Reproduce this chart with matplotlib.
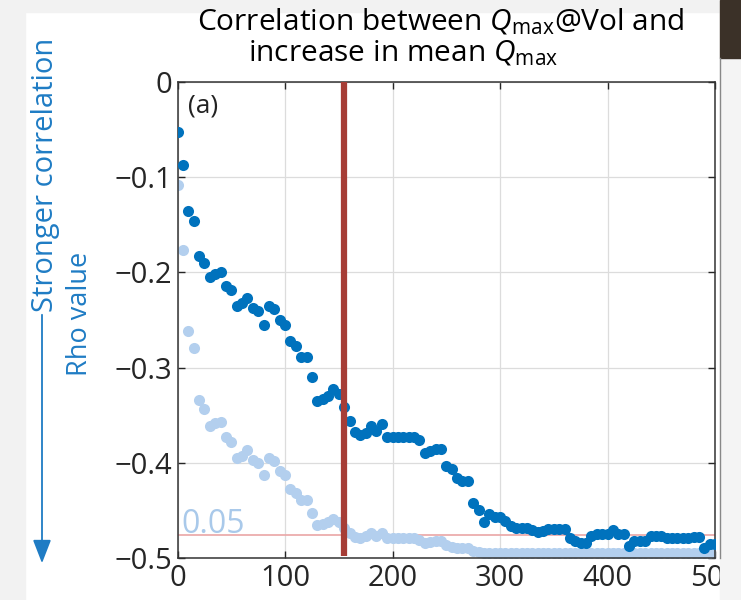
import matplotlib.pyplot as plt
from matplotlib.patches import Rectangle, FancyArrowPatch
from matplotlib.lines import Line2D

plt.rcParams['font.family'] = ['Open Sans', 'DejaVu Sans']
plt.rcParams['mathtext.fontset'] = 'custom'
plt.rcParams['mathtext.rm'] = 'Open Sans'
plt.rcParams['mathtext.it'] = 'Open Sans:italic'

# window size (days), one point every 5
ventana = list(range(0, 501, 5))

rho = [-0.053, -0.087, -0.135, -0.146, -0.183, -0.190, -0.205, -0.202, -0.200, -0.214,
       -0.219, -0.235, -0.232, -0.227, -0.237, -0.241, -0.255, -0.235, -0.238, -0.250,
       -0.255, -0.272, -0.277, -0.289, -0.289, -0.310, -0.335, -0.333, -0.330, -0.322,
       -0.328, -0.341, -0.356, -0.368, -0.371, -0.369, -0.361, -0.367, -0.359, -0.373,
       -0.373, -0.373, -0.373, -0.373, -0.373, -0.376, -0.390, -0.388, -0.385, -0.385,
       -0.403, -0.406, -0.416, -0.419, -0.419, -0.442, -0.450, -0.462, -0.454, -0.457,
       -0.457, -0.461, -0.466, -0.468, -0.468, -0.469, -0.471, -0.473, -0.472, -0.470,
       -0.470, -0.470, -0.470, -0.479, -0.482, -0.484, -0.484, -0.477, -0.475, -0.475,
       -0.475, -0.471, -0.475, -0.475, -0.487, -0.482, -0.482, -0.482, -0.477, -0.477,
       -0.477, -0.479, -0.479, -0.479, -0.479, -0.479, -0.478, -0.478, -0.490, -0.485,
       -0.485]

rho_claro = [-0.108, -0.176, -0.262, -0.279, -0.334, -0.343, -0.361, -0.358, -0.357, -0.373,
             -0.378, -0.395, -0.393, -0.387, -0.397, -0.400, -0.413, -0.395, -0.398, -0.409,
             -0.413, -0.427, -0.432, -0.439, -0.439, -0.453, -0.465, -0.464, -0.462, -0.459,
             -0.462, -0.468, -0.474, -0.478, -0.479, -0.477, -0.474, -0.477, -0.474, -0.479,
             -0.479, -0.479, -0.479, -0.479, -0.479, -0.481, -0.484, -0.483, -0.482, -0.482,
             -0.486, -0.488, -0.489, -0.490, -0.490, -0.493, -0.494, -0.495, -0.495, -0.495,
             -0.495, -0.495, -0.495, -0.495, -0.495, -0.495, -0.495, -0.495, -0.495, -0.495,
             -0.495, -0.495, -0.495, -0.495, -0.495, -0.495, -0.495, -0.495, -0.495, -0.495,
             -0.495, -0.495, -0.495, -0.495, -0.495, -0.495, -0.495, -0.495, -0.495, -0.495,
             -0.495, -0.495, -0.495, -0.495, -0.495, -0.495, -0.495, -0.495, -0.495, -0.495,
             -0.495]

umbral = -0.4755   # rho at p = 0.05
corte = 154.5      # selected window

azul = '#0072bd'
azul_claro = '#b3cfee'
texto_azul = '#1f7cc4'

fig = plt.figure(figsize=(7.41, 6), dpi=100)
W, H = 741, 600

# screenshot edges
fig.patches.append(Rectangle((0, 0), 25 / W, 1, transform=fig.transFigure, color='#f2f2f2', zorder=0))
fig.patches.append(Rectangle((0, 1 - 12 / H), 1, 12 / H, transform=fig.transFigure, color='#f2f2f2', zorder=0))
fig.patches.append(Rectangle((720 / W, 0), 21 / W, 1, transform=fig.transFigure, color='#f4f4f4', zorder=0))
fig.patches.append(Rectangle((720 / W, 1 - 58 / H), 21 / W, 58 / H, transform=fig.transFigure, color='#3b3128', zorder=0))
fig.lines.append(Line2D([720 / W, 720 / W], [0.07, 1 - 58 / H], transform=fig.transFigure, color='#888888', lw=1))

ax = fig.add_axes([177.5 / W, 1 - 558 / H, (715 - 177.5) / W, (558 - 82) / H])

ax.grid(True, color='#dcdcdc', linewidth=0.9)
ax.set_axisbelow(True)
ax.axhline(umbral, color='#eaa6a6', linewidth=1.2, zorder=1)
ax.plot(ventana, rho_claro, 'o', color=azul_claro, markersize=8, markeredgewidth=0, zorder=2)
ax.plot(ventana, rho, 'o', color=azul, markersize=8, markeredgewidth=0, zorder=3)
ax.vlines(corte, -0.498, 0, color='#a63d36', linewidth=4.5, zorder=4)

ax.text(4, -0.4735, '0.05', color='#a9c9ea', fontsize=23, va='baseline', ha='left')
ax.text(0.02, 0.975, '(a)', transform=ax.transAxes, fontsize=19, va='top', ha='left', color='#222222')

ax.set_xlim(0, 500)
ax.set_ylim(-0.5, 0)
ax.set_xticks([0, 100, 200, 300, 400, 500])
ax.set_yticks([-0.5, -0.4, -0.3, -0.2, -0.1, 0])
ax.set_yticklabels(['\u22120.5', '\u22120.4', '\u22120.3', '\u22120.2', '\u22120.1', '0'])
ax.tick_params(direction='in', length=5, width=1, top=True, right=True,
               labelsize=21, colors='#262626', pad=4)
for s in ax.spines.values():
    s.set_color('#333333')
    s.set_linewidth(1.1)

fig.text(441 / W, 1 - 22 / H, r'Correlation between $Q_{\rm max}$@Vol and',
         ha='center', va='center', fontsize=21.5)
fig.text(403 / W, 1 - 53 / H, r'increase in mean $Q_{\rm max}$',
         ha='center', va='center', fontsize=21.5)

fig.text(80 / W, 1 - 314 / H, 'Rho value', rotation=90, ha='center', va='center',
         fontsize=19.5, color=texto_azul)
fig.text(46 / W, 1 - 312 / H, 'Stronger correlation', rotation=90, ha='center', va='bottom',
         fontsize=21, color=texto_azul)
flecha = FancyArrowPatch((42 / W, 1 - 312 / H), (42 / W, 1 - 566 / H), transform=fig.transFigure,
                         arrowstyle='-|>,head_length=9,head_width=3.5', color=texto_azul,
                         linewidth=1.3, mutation_scale=1.6)
fig.patches.append(flecha)

fig.savefig('out.png', dpi=100)
